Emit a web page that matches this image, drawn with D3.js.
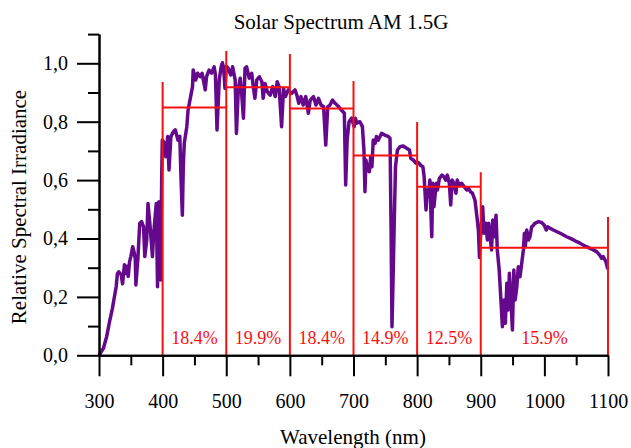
<!DOCTYPE html>
<html>
<head>
<meta charset="utf-8">
<script src="https://cdn.jsdelivr.net/npm/d3@7"></script>
<style>
  html, body { margin: 0; padding: 0; background: #fff; }
  svg { display: block; font-family: "Liberation Serif", "Times New Roman", serif; }
</style>
</head>
<body>
<svg id="chart" width="631" height="448"></svg>
<script>
// AM 1.5G spectrum, normalised to its maximum
const wavelength = [
  300, 302, 307, 312, 317, 321, 325, 327, 329, 331, 335, 337, 340, 342, 344, 346, 348, 350,
  353, 355, 357, 358, 360, 361, 364, 367, 370, 372, 375, 377, 380, 384, 386, 390, 392, 394,
  397, 398.5, 399.5, 403, 405, 408, 410, 413, 417, 420, 424, 427, 429, 431, 432.5, 434, 438,
  440, 444, 447, 448, 452, 455, 459, 462, 467, 469, 473, 477, 481, 483, 485.5, 489, 492,
  494, 496, 498, 500, 503, 507, 510, 514, 516, 519, 522, 524, 527, 529.5, 532, 536, 540,
  542.5, 545, 548, 552, 556, 558, 561, 564.5, 569, 573, 577, 580, 583, 587, 590, 593, 597.5,
  600, 603, 608, 611, 614, 617.5, 621, 625, 629, 632, 637, 641, 645, 649, 653, 656.4, 659.5,
  663, 667, 671, 676, 681, 685.6, 687.7, 690, 693, 697, 701, 703, 705, 710, 714, 716.4, 718,
  719.6, 722, 725, 727, 729, 731, 734, 736, 739, 744, 749.5, 755, 757.4, 759, 760.5, 762.6,
  764, 766, 769, 773, 778, 783.5, 788, 790, 794, 798, 802, 806, 809, 811, 814, 816, 818, 820,
  823, 824.5, 826.5, 830, 832, 835, 839, 842, 845, 847.5, 850.6, 852.8, 855, 858, 861, 863,
  866, 870, 874, 878, 880.5, 884, 887, 891, 894.6, 896.3, 898, 900, 903, 905, 908, 910.4,
  912.5, 914.6, 917, 918.8, 921, 924, 926, 929, 932, 934, 936.6, 938.7, 941, 943, 945, 947.2,
  949.8, 952, 954, 956.7, 959, 961.7, 964.4, 967, 968.6, 970, 972.3, 975, 977.4, 980, 982.7,
  985, 991, 996, 999.6, 1003, 1005, 1009, 1014, 1020, 1025, 1030, 1035, 1040, 1046, 1051,
  1056, 1061, 1066, 1072, 1077, 1082, 1087, 1090, 1092.4, 1096.7, 1099.3, 1100
];
const irradiance = [
  0.000, 0.007, 0.024, 0.064, 0.120, 0.160, 0.210, 0.235, 0.280, 0.286, 0.275, 0.245, 0.310, 0.280, 0.305, 0.270, 0.320, 0.338,
  0.372, 0.355, 0.330, 0.241, 0.300, 0.326, 0.452, 0.458, 0.440, 0.338, 0.395, 0.520, 0.450, 0.338, 0.418, 0.520, 0.235, 0.526,
  0.258, 0.600, 0.737, 0.726, 0.680, 0.749, 0.635, 0.749, 0.766, 0.772, 0.737, 0.750, 0.600, 0.480, 0.650, 0.726, 0.783,
  0.840, 0.886, 0.920, 0.977, 0.943, 0.966, 0.954, 0.966, 0.909, 0.954, 0.977, 0.966, 0.988, 0.960, 0.772, 0.943, 0.988,
  1.002, 0.980, 0.914, 0.990, 0.983, 0.960, 0.988, 0.943, 0.760, 0.914, 0.949, 0.903, 0.812, 0.983, 0.988, 0.949, 0.966,
  0.920, 0.880, 0.943, 0.954, 0.937, 0.880, 0.931, 0.903, 0.891, 0.920, 0.886, 0.937, 0.920, 0.783, 0.914, 0.886, 0.909,
  0.903, 0.897, 0.909, 0.891, 0.863, 0.886, 0.857, 0.886, 0.829, 0.874, 0.886, 0.857, 0.880, 0.857, 0.851, 0.720, 0.851,
  0.857, 0.874, 0.863, 0.853, 0.840, 0.829, 0.583, 0.737, 0.800, 0.812, 0.783, 0.812, 0.795, 0.800, 0.783, 0.703, 0.560,
  0.669, 0.635, 0.629, 0.680, 0.646, 0.737, 0.726, 0.749, 0.737, 0.760, 0.754, 0.749, 0.743, 0.440, 0.098, 0.303,
  0.452, 0.646, 0.703, 0.714, 0.717, 0.709, 0.703, 0.675, 0.669, 0.658, 0.660, 0.650, 0.646, 0.612, 0.498, 0.566, 0.543, 0.600,
  0.406, 0.589, 0.509, 0.589, 0.566, 0.606, 0.617, 0.612, 0.600, 0.617, 0.589, 0.515, 0.600, 0.589, 0.555, 0.600,
  0.583, 0.589, 0.577, 0.566, 0.572, 0.560, 0.555, 0.530, 0.463, 0.429, 0.335, 0.420, 0.509, 0.418, 0.452, 0.395,
  0.452, 0.406, 0.361, 0.463, 0.406, 0.480, 0.361, 0.292, 0.178, 0.098, 0.189, 0.110, 0.247, 0.155, 0.281, 0.200,
  0.087, 0.292, 0.189, 0.235, 0.303, 0.269, 0.315, 0.361, 0.418, 0.372, 0.429, 0.395, 0.406, 0.440, 0.445,
  0.452, 0.458, 0.454, 0.446, 0.429, 0.440, 0.435, 0.429, 0.423, 0.418, 0.412, 0.406, 0.401, 0.395, 0.389,
  0.384, 0.378, 0.372, 0.366, 0.361, 0.355, 0.343, 0.332, 0.338, 0.321, 0.298, 0.300
];

// Wavelength bands, their mean level and share of the total power
const bandEdges  = [400, 500, 600, 700, 800, 900, 1100];
const edgeTops   = [0.936, 1.042, 1.032, 0.939, 0.799, 0.627, 0.474];
const bandMeans  = [0.849, 0.918, 0.845, 0.684, 0.577, 0.368];
const bandShares = ["18.4%", "19.9%", "18.4%", "14.9%", "12.5%", "15.9%"];

// Axis ticks
const xMajorTicks = [300, 400, 500, 600, 700, 800, 900, 1000, 1100];
const xMinorTicks = [350, 450, 550, 650, 750, 850, 950, 1050];
const yMajorTicks = [0, 0.2, 0.4, 0.6, 0.8, 1.0];
const yMinorTicks = [0.1, 0.3, 0.5, 0.7, 0.9, 1.1];

const svg = d3.select("#chart");
const x = d3.scaleLinear().domain([300, 1100]).range([99, 608]);
const y = d3.scaleLinear().domain([0, 1.1]).range([355.3, 34.1]);

const spectrum = wavelength.map((w, i) => [w, irradiance[i]]);
const bands = bandMeans.map((m, i) => ({ x0: bandEdges[i], x1: bandEdges[i + 1], mean: m, share: bandShares[i] }));
const edges = bandEdges.map((e, i) => ({ at: e, top: edgeTops[i] }));

// Spectrum curve
svg.append("path")
  .datum(spectrum)
  .attr("fill", "none")
  .attr("stroke", "#65098c")
  .attr("stroke-width", 3.5)
  .attr("stroke-linejoin", "round")
  .attr("d", d3.line().x(d => x(d[0])).y(d => y(d[1])));

// Band boundaries and mean levels
const red = "#f81010";
svg.append("g").selectAll("line").data(edges).join("line")
  .attr("x1", d => x(d.at)).attr("x2", d => x(d.at))
  .attr("y1", y(0)).attr("y2", d => y(d.top))
  .attr("stroke", red).attr("stroke-width", 2);
svg.append("g").selectAll("line").data(bands).join("line")
  .attr("x1", d => x(d.x0)).attr("x2", d => x(d.x1))
  .attr("y1", d => y(d.mean)).attr("y2", d => y(d.mean))
  .attr("stroke", red).attr("stroke-width", 2);
svg.append("g").selectAll("text").data(bands).join("text")
  .attr("x", d => (x(d.x0) + x(d.x1)) / 2)
  .attr("y", 344)
  .attr("text-anchor", "middle")
  .attr("fill", red)
  .attr("font-size", 18)
  .text(d => d.share);

// Axes
function styleAxis(g) {
  g.selectAll("path, line").attr("stroke", "#000").attr("stroke-width", 2);
  g.selectAll("text").attr("fill", "#000").attr("font-size", 20)
    .attr("font-family", "Liberation Serif, Times New Roman, serif");
}
const comma = v => d3.format(".1f")(v).replace(".", ",");

svg.append("g").attr("transform", `translate(0,${y(0)})`)
  .call(d3.axisBottom(x).tickValues(xMinorTicks).tickSize(10).tickSizeOuter(0).tickFormat(""))
  .call(styleAxis);
svg.append("g").attr("transform", `translate(0,${y(0)})`)
  .call(d3.axisBottom(x).tickValues(xMajorTicks).tickSize(21).tickSizeOuter(0).tickPadding(18).tickFormat(d3.format("d")))
  .call(styleAxis);
svg.append("g").attr("transform", `translate(${x(300)},0)`)
  .call(d3.axisLeft(y).tickValues(yMinorTicks).tickSize(11).tickSizeOuter(0).tickFormat(""))
  .call(styleAxis);
svg.append("g").attr("transform", `translate(${x(300)},0)`)
  .call(d3.axisLeft(y).tickValues(yMajorTicks).tickSize(22).tickSizeOuter(0).tickPadding(9).tickFormat(comma))
  .call(styleAxis);

// Titles
svg.append("text").attr("x", 341).attr("y", 29).attr("text-anchor", "middle")
  .attr("font-size", 21).text("Solar Spectrum AM 1.5G");
svg.append("text").attr("x", 353).attr("y", 444).attr("text-anchor", "middle")
  .attr("font-size", 21).text("Wavelength (nm)");
svg.append("text").attr("transform", "translate(26,207) rotate(-90)").attr("text-anchor", "middle")
  .attr("font-size", 21).text("Relative Spectral Irradiance");
</script>
</body>
</html>
